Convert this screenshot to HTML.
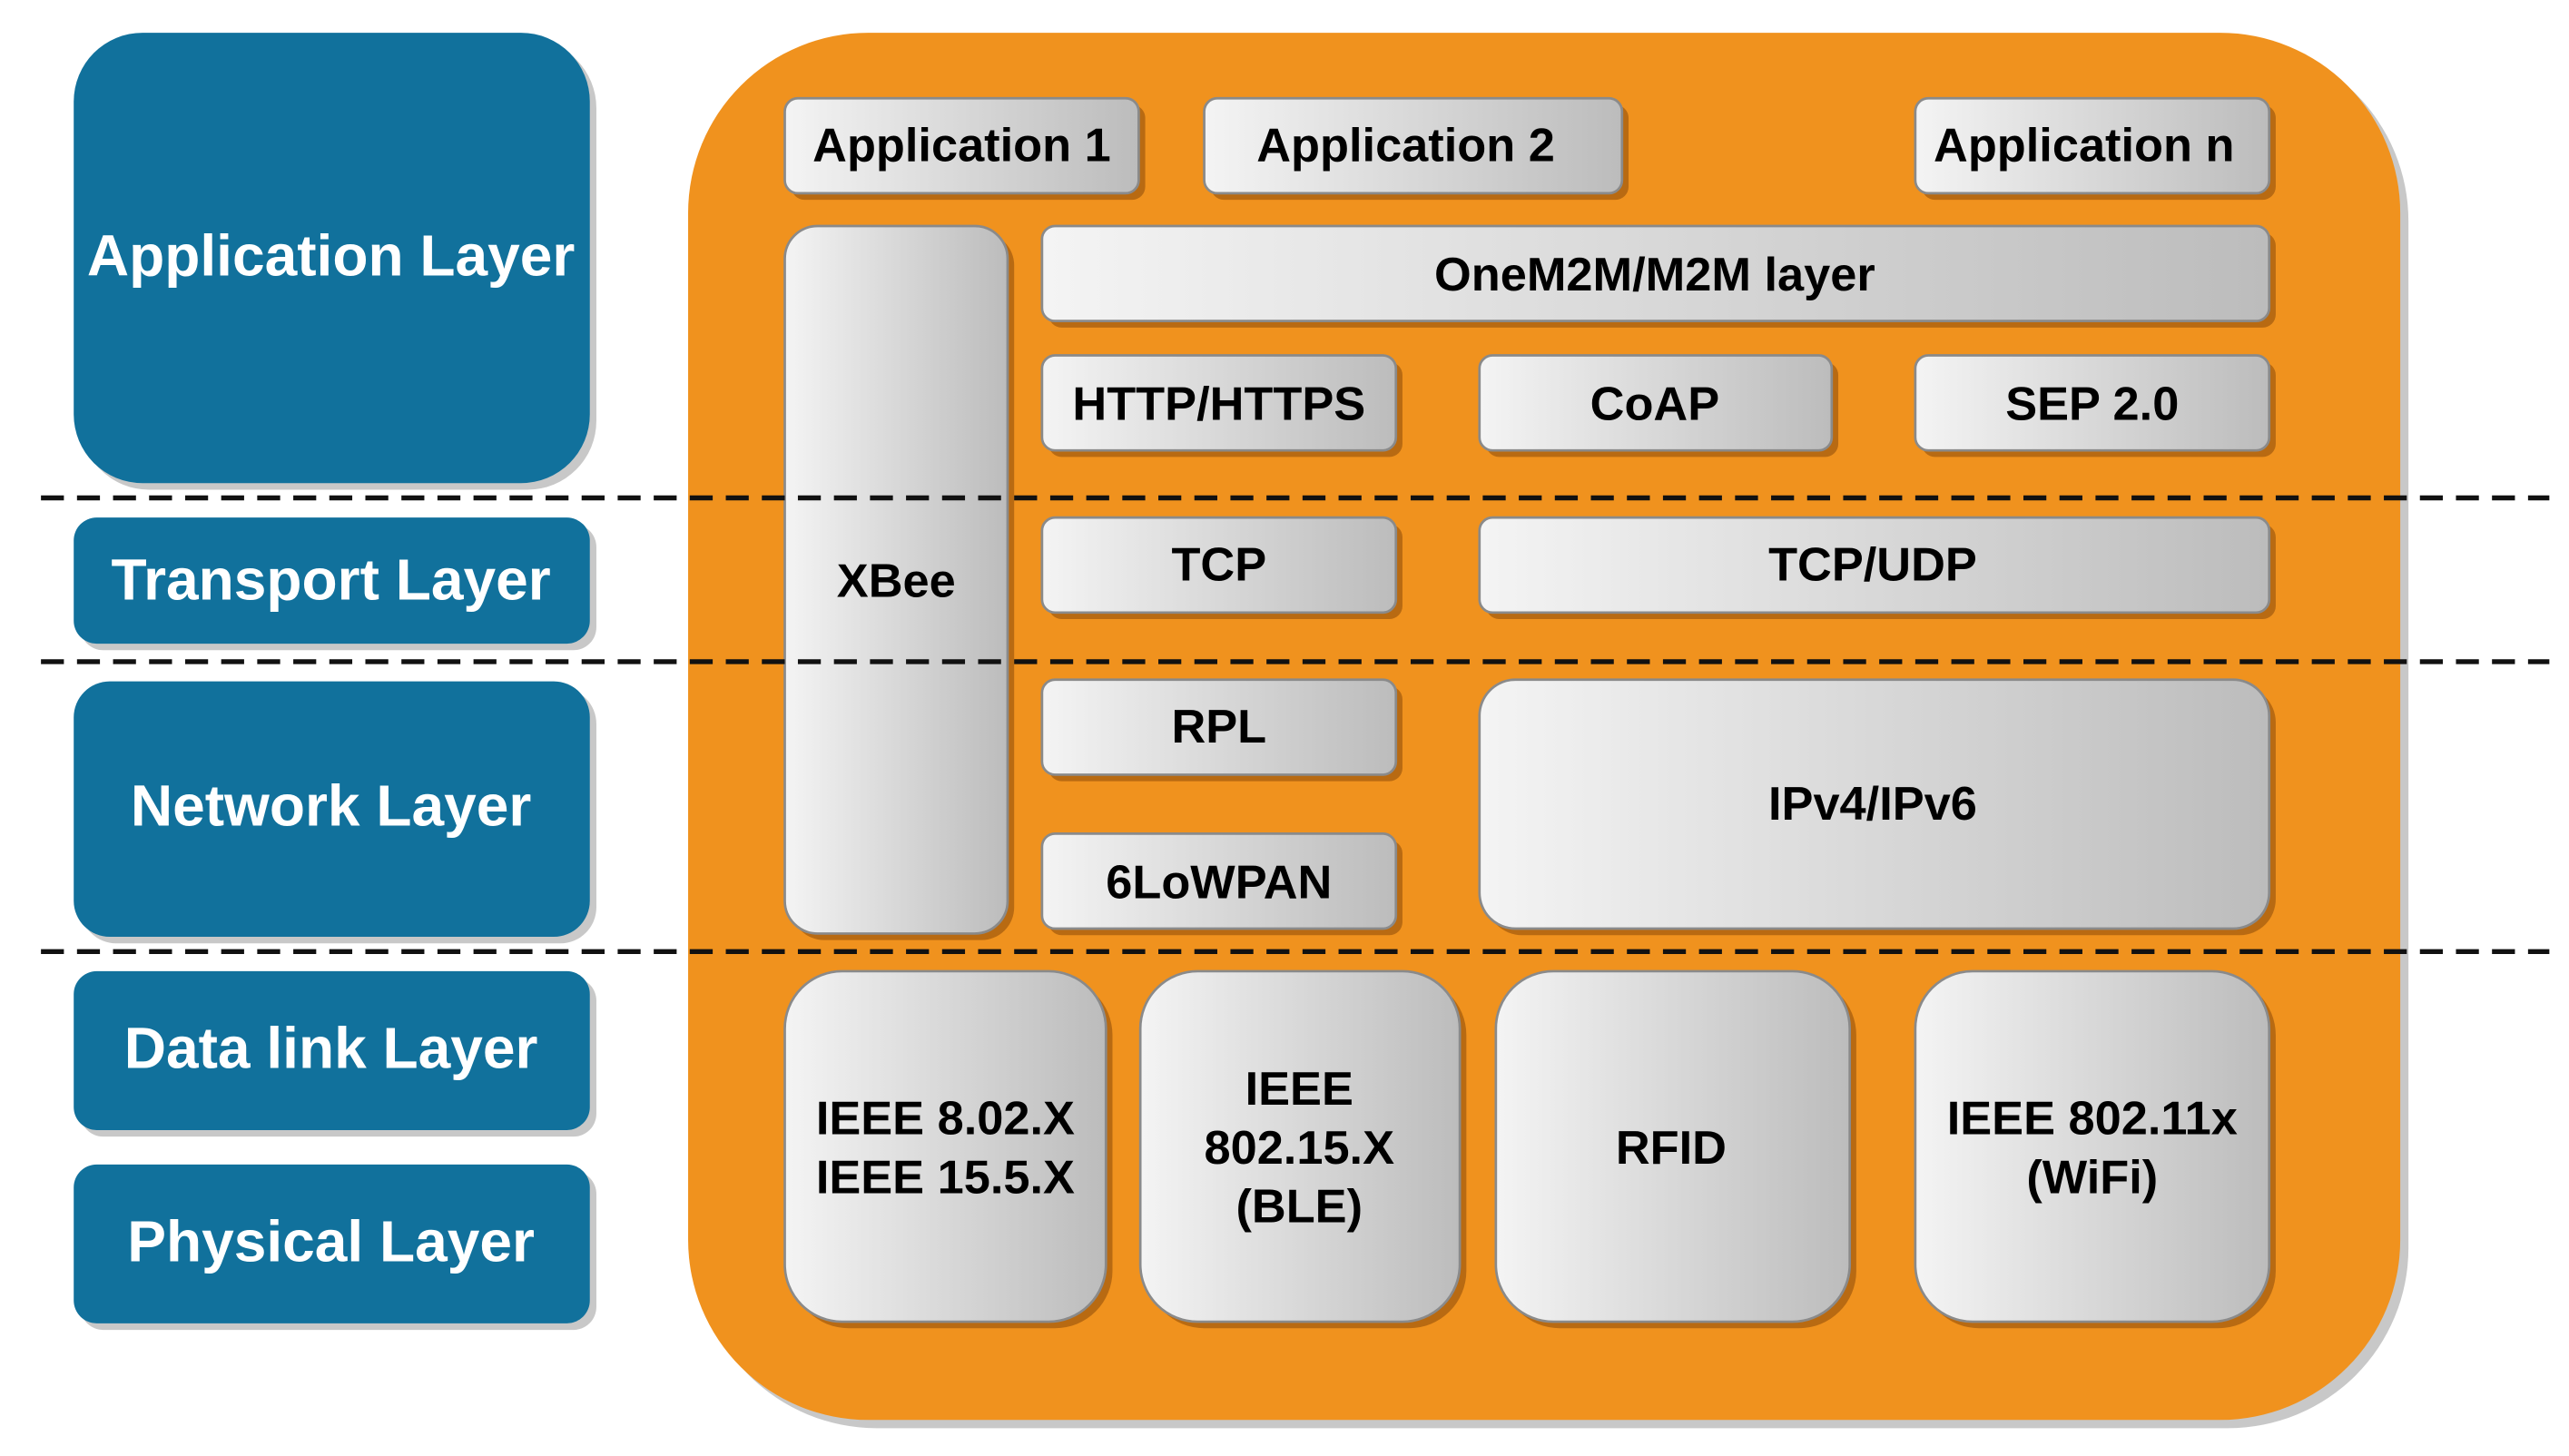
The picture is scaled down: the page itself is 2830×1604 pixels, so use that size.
<!DOCTYPE html>
<html><head><meta charset="utf-8"><style>
html,body{margin:0;padding:0;background:#fff;}
svg{display:block;}
text{font-family:"Liberation Sans",sans-serif;font-weight:bold;text-anchor:middle;dominant-baseline:central;}
.b{fill:#000;font-size:29px;}
.w{fill:#fff;font-size:35.5px;}
</style></head><body>
<svg width="2830" height="1604" viewBox="0 0 1568 889" preserveAspectRatio="none" xmlns="http://www.w3.org/2000/svg">
<defs>
<linearGradient id="g" x1="0" y1="0" x2="1" y2="0">
<stop offset="0" stop-color="#f4f4f4"/><stop offset="1" stop-color="#bcbcbc"/>
</linearGradient>
</defs>
<g fill="#c8c8c8">
<rect x="49" y="24" width="315" height="275" rx="42"/>
<rect x="49" y="320" width="315" height="77" rx="14"/>
<rect x="49" y="420" width="315" height="156" rx="22"/>
<rect x="49" y="597" width="315" height="97" rx="14"/>
<rect x="49" y="715" width="315" height="97" rx="14"/>
</g>
<g fill="#11719c">
<rect x="45" y="20" width="315" height="275" rx="42"/>
<rect x="45" y="316" width="315" height="77" rx="14"/>
<rect x="45" y="416" width="315" height="156" rx="22"/>
<rect x="45" y="593" width="315" height="97" rx="14"/>
<rect x="45" y="711" width="315" height="97" rx="14"/>
</g>
<text class="w" x="202" y="156">Application Layer</text>
<text class="w" x="202" y="354">Transport Layer</text>
<text class="w" x="202" y="492">Network Layer</text>
<text class="w" x="202" y="640">Data link Layer</text>
<text class="w" x="202" y="758">Physical Layer</text>
<rect x="425" y="25" width="1045" height="847" rx="110" fill="#c8c8c8"/>
<rect x="420" y="20" width="1045" height="847" rx="110" fill="#f0921e"/>
<g fill="#b86a12">
<rect x="483" y="64" width="216" height="58" rx="8"/>
<rect x="739" y="64" width="255" height="58" rx="8"/>
<rect x="1173" y="64" width="216" height="58" rx="8"/>
<rect x="483" y="142" width="136" height="432" rx="20"/>
<rect x="640" y="142" width="749" height="58" rx="8"/>
<rect x="640" y="221" width="216" height="58" rx="8"/>
<rect x="907" y="221" width="215" height="58" rx="8"/>
<rect x="1173" y="221" width="216" height="58" rx="8"/>
<rect x="640" y="320" width="216" height="58" rx="8"/>
<rect x="907" y="320" width="482" height="58" rx="8"/>
<rect x="640" y="419" width="216" height="58" rx="8"/>
<rect x="640" y="513" width="216" height="58" rx="8"/>
<rect x="907" y="419" width="482" height="152" rx="22"/>
<rect x="483" y="597" width="196" height="214" rx="35"/>
<rect x="700" y="597" width="195" height="214" rx="35"/>
<rect x="917" y="597" width="216" height="214" rx="35"/>
<rect x="1173" y="597" width="216" height="214" rx="35"/>
</g>
<g fill="url(#g)" stroke="#8a8a8a" stroke-width="1.5">
<rect x="479" y="60" width="216" height="58" rx="8"/>
<rect x="735" y="60" width="255" height="58" rx="8"/>
<rect x="1169" y="60" width="216" height="58" rx="8"/>
<rect x="479" y="138" width="136" height="432" rx="20"/>
<rect x="636" y="138" width="749" height="58" rx="8"/>
<rect x="636" y="217" width="216" height="58" rx="8"/>
<rect x="903" y="217" width="215" height="58" rx="8"/>
<rect x="1169" y="217" width="216" height="58" rx="8"/>
<rect x="636" y="316" width="216" height="58" rx="8"/>
<rect x="903" y="316" width="482" height="58" rx="8"/>
<rect x="636" y="415" width="216" height="58" rx="8"/>
<rect x="636" y="509" width="216" height="58" rx="8"/>
<rect x="903" y="415" width="482" height="152" rx="22"/>
<rect x="479" y="593" width="196" height="214" rx="35"/>
<rect x="696" y="593" width="195" height="214" rx="35"/>
<rect x="913" y="593" width="216" height="214" rx="35"/>
<rect x="1169" y="593" width="216" height="214" rx="35"/>
</g>
<g stroke="#111" stroke-width="3" stroke-dasharray="14 8">
<line x1="25" y1="304" x2="1556" y2="304"/>
<line x1="25" y1="404" x2="1556" y2="404"/>
<line x1="25" y1="581" x2="1556" y2="581"/>
</g>
<text class="b" x="587" y="89">Application 1</text>
<text class="b" x="858" y="89">Application 2</text>
<text class="b" x="1272" y="89">Application n</text>
<text class="b" x="547" y="355">XBee</text>
<text class="b" x="1010" y="168">OneM2M/M2M layer</text>
<text class="b" x="744" y="247">HTTP/HTTPS</text>
<text class="b" x="1010" y="247">CoAP</text>
<text class="b" x="1277" y="247">SEP 2.0</text>
<text class="b" x="744" y="345">TCP</text>
<text class="b" x="1143" y="345">TCP/UDP</text>
<text class="b" x="744" y="444">RPL</text>
<text class="b" x="744" y="539">6LoWPAN</text>
<text class="b" x="1143" y="491">IPv4/IPv6</text>
<text class="b" x="577" y="683">IEEE 8.02.X</text>
<text class="b" x="577" y="719">IEEE 15.5.X</text>
<text class="b" x="793" y="665">IEEE</text>
<text class="b" x="793" y="701">802.15.X</text>
<text class="b" x="793" y="737">(BLE)</text>
<text class="b" x="1020" y="701">RFID</text>
<text class="b" x="1277" y="683">IEEE 802.11x</text>
<text class="b" x="1277" y="719">(WiFi)</text>
</svg>
</body></html>
